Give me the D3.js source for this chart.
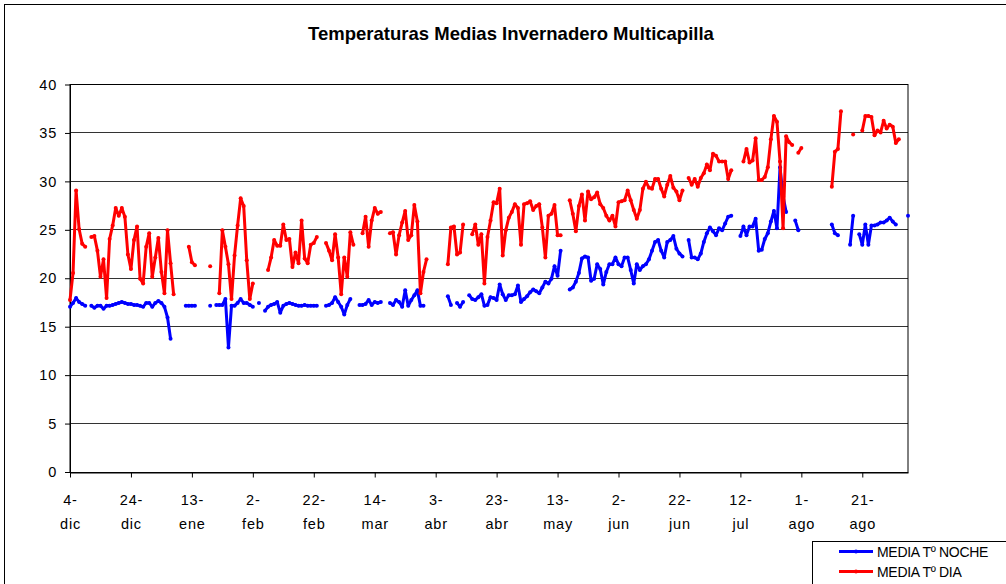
<!DOCTYPE html>
<html>
<head>
<meta charset="utf-8">
<script src="https://cdn.jsdelivr.net/npm/d3@7"></script>
<style>
  body { margin: 0; background: #fff; }
  svg { display: block; font-family: "Liberation Sans", Arial, sans-serif; }
</style>
</head>
<body>
<svg id="chart"></svg>
<script>
// Daily means, day 0 = 4-dic; null = no reading
const noche = [
  17.0, 17.4, 17.9, 17.5, 17.3, 17.1, null, 17.1, 16.9, 17.1,
  17.1, 16.8, 17.1, 17.1, 17.2, 17.3, 17.4, 17.5, 17.4, 17.3,
  17.3, 17.2, 17.2, 17.1, 17.0, 17.4, 17.4, 17.0, 17.4, 17.6,
  17.4, 17.0, 15.9, 13.7, null, null, null, null, 17.1, 17.1,
  17.1, 17.1, null, null, null, null, 17.1, null, 17.2, 17.2,
  17.2, 17.8, 12.8, 17.1, 17.1, 17.4, 17.8, 17.4, 17.4, 17.2,
  17.0, null, 17.4, null, 16.6, 17.0, 17.2, 17.3, 17.5, 16.4,
  17.1, 17.3, 17.4, 17.3, 17.2, 17.1, 17.1, 17.2, 17.1, 17.1,
  17.1, 17.1, null, null, 17.1, 17.2, 17.4, 18.0, 17.5, 17.0,
  16.2, 17.2, 17.8, null, null, 17.2, 17.2, 17.3, 17.7, 17.2,
  17.5, 17.4, 17.5, null, null, 17.4, 17.2, 17.7, 17.5, 17.0,
  18.7, 17.1, 17.7, 18.2, 18.7, 17.1, 17.1, null, null, null,
  null, null, null, null, 18.1, 17.2, null, 17.4, 17.0, 17.5,
  null, 18.2, 17.8, 17.7, 18.0, 18.3, 17.1, 17.2, 18.0, 17.9,
  17.7, 19.3, 18.3, 17.7, 18.2, 18.2, 18.3, 19.2, 17.5, 17.8,
  18.1, 18.5, 18.8, 18.6, 18.4, 19.0, 19.6, 19.4, 19.9, 21.2,
  20.2, 22.8, null, null, 18.8, 19.0, 19.6, 20.5, 22.0, 22.2,
  22.1, 19.7, 19.9, 21.4, 20.9, 19.3, 20.6, 21.4, 21.4, 22.1,
  21.4, 21.2, 22.1, 22.1, 20.8, 19.4, 21.4, 20.8, 21.2, 21.4,
  21.9, 22.8, 23.7, 23.9, 22.8, 22.1, 23.7, 23.9, 24.3, 23.0,
  22.5, 22.2, null, 23.9, 22.1, 22.1, 21.9, 22.5, 23.7, 24.6,
  25.2, 24.8, 24.4, 25.1, 24.9, 25.6, 26.3, 26.4, null, null,
  24.3, 25.3, 24.4, 25.3, 25.3, 26.1, 22.8, 22.9, 24.0, 24.6,
  25.8, 26.9, 25.1, 31.4, 28.4, 26.8, null, null, 25.9, 24.9,
  null, null, null, null, null, null, null, null, null, null,
  25.5, 24.6, 24.4, null, null, null, 23.4, 26.4, null, 24.5,
  23.4, 25.5, 23.4, 25.4, 25.4, 25.5, 25.7, 25.7, 25.9, 26.2,
  25.8, 25.5, null, null, null, 26.4
];

const dia = [
  17.7, 20.5, 29.0, 25.0, 23.5, 23.2, null, 24.2, 24.3, 22.8,
  20.1, 21.9, 17.9, 24.0, 25.4, 27.2, 26.4, 27.2, 26.3, 22.4,
  20.9, 23.9, 25.3, 19.9, 19.4, 23.2, 24.6, 20.1, 22.1, 24.1,
  20.6, 18.4, 24.9, 21.5, 18.3, null, null, null, null, 23.2,
  21.6, 21.3, null, null, null, null, 21.2, null, null, 18.4,
  24.9, 23.2, 21.4, 17.8, 22.3, 25.4, 28.2, 27.4, 21.8, 17.8,
  19.4, null, null, null, null, 20.8, 22.1, 23.9, 23.3, 23.3,
  25.5, 23.9, 24.0, 21.1, 22.6, 21.5, 25.9, 22.0, 21.5, 23.4,
  23.6, 24.2, null, null, 23.6, 22.8, 21.8, 24.5, 22.1, 18.3,
  22.1, 20.1, 24.7, 23.4, null, null, 24.6, 26.3, 23.2, 25.9,
  27.2, 26.6, 26.8, null, null, 24.6, 24.7, 22.4, 24.4, 25.7,
  26.9, 23.9, 24.4, 27.5, 25.8, 18.4, 20.6, 21.9, null, null,
  null, null, null, null, 21.4, 25.2, 25.3, 22.4, 22.6, 25.5,
  null, null, 24.5, 25.5, 23.4, 24.5, 19.4, 24.2, 25.9, 27.8,
  27.7, 29.2, 22.3, 24.9, 26.2, 26.8, 27.6, 27.2, 23.4, 27.6,
  27.7, 27.9, 27.0, 27.4, 27.6, 25.2, 22.1, 26.4, 26.6, 27.5,
  24.4, 24.4, null, null, 28.0, 26.6, 24.8, 27.4, 28.6, 25.9,
  28.9, 28.1, 28.3, 28.8, 27.6, 27.2, 26.4, 25.9, 26.4, 25.3,
  27.8, 27.9, 28.0, 29.0, 28.0, 27.0, 26.1, 27.0, 29.2, 29.9,
  29.3, 29.2, 30.2, 30.2, 29.2, 28.4, 29.6, 30.5, 29.3, 28.9,
  28.0, 29.0, null, 30.3, 29.6, 30.2, 29.4, 30.3, 30.8, 31.7,
  31.1, 32.8, 32.6, 32.0, 32.0, 32.0, 30.2, 31.1, null, null,
  null, 32.0, 33.3, 31.9, 32.1, 34.4, 30.1, 30.1, 30.4, 31.4,
  34.3, 36.7, 36.1, 32.0, 25.1, 34.6, 34.0, 33.7, null, 32.9,
  33.4, null, null, null, null, null, null, null, null, null,
  29.4, 33.0, 33.3, 37.2, null, null, null, 34.8, null, null,
  35.2, 36.7, 36.7, 36.6, 34.7, 35.2, 35.0, 36.2, 35.4, 35.8,
  35.6, 33.9, 34.3, null, null, null
];

const tickDays = [0, 20, 40, 60, 80, 100, 120, 140, 160, 180, 200, 220, 240, 260];
const tickLabels = ["4-dic", "24-dic", "13-ene", "2-feb", "22-feb", "14-mar", "3-abr",
                    "23-abr", "13-may", "2-jun", "22-jun", "12-jul", "1-ago", "21-ago"];
const yTicks = [0, 5, 10, 15, 20, 25, 30, 35, 40];

const series = [
  { name: "MEDIA Tº NOCHE", values: noche, color: "#0000ff" },
  { name: "MEDIA Tº DIA", values: dia, color: "#ff0000" }
];

const W = 1006, H = 584;
const plot = { left: 70, right: 908, top: 84, bottom: 471.5 };

const svg = d3.select("#chart").attr("width", W).attr("height", H);

// chart area border (cropped on right/bottom)
svg.append("rect")
  .attr("x", 4.5).attr("y", 4.5)
  .attr("width", 1200).attr("height", 800)
  .attr("fill", "#fff").attr("stroke", "#000").attr("stroke-width", 1);

// title
svg.append("text")
  .attr("x", 511).attr("y", 40)
  .attr("text-anchor", "middle")
  .attr("font-size", "18.5px")
  .attr("font-weight", "bold")
  .text("Temperaturas Medias Invernadero Multicapilla");

const x = d3.scaleLinear().domain([0, 275]).range([plot.left, plot.right]);
const y = d3.scaleLinear().domain([0, 40]).range([plot.bottom, plot.top]);

// gridlines
svg.append("g")
  .selectAll("line")
  .data(yTicks.filter(d => d > 0))
  .join("line")
  .attr("x1", plot.left).attr("x2", plot.right)
  .attr("y1", d => Math.round(y(d)) + 0.5).attr("y2", d => Math.round(y(d)) + 0.5)
  .attr("stroke", "#333").attr("stroke-width", 1);

// plot border
svg.append("rect")
  .attr("x", plot.left).attr("y", Math.round(y(40)) + 0.5)
  .attr("width", plot.right - plot.left)
  .attr("height", Math.round(y(0)) - Math.round(y(40)))
  .attr("fill", "none").attr("stroke", "#000");

// y axis
const yAxis = svg.append("g")
  .attr("transform", `translate(${plot.left},0.5)`)
  .call(d3.axisLeft(y).tickValues(yTicks).tickSize(5).tickPadding(8).tickSizeOuter(0));
yAxis.selectAll("text").attr("font-size", "14.5px").attr("font-family", "Liberation Sans, Arial, sans-serif")
  .attr("letter-spacing", "0.8px").attr("fill", "#000");
yAxis.selectAll("line, path").attr("stroke", "#000");

// x axis
const xAxis = svg.append("g")
  .attr("transform", `translate(0,${Math.round(y(0)) + 0.5})`)
  .call(d3.axisBottom(x).tickValues(tickDays).tickSize(5).tickSizeOuter(0)
    .tickFormat((d, i) => tickLabels[i]));
xAxis.selectAll("line, path").attr("stroke", "#000");
xAxis.selectAll(".tick text").each(function(d, i) {
  const parts = tickLabels[i].split("-");
  const t = d3.select(this).text(null).attr("y", null).attr("dy", null)
    .attr("font-size", "14.5px").attr("font-family", "Liberation Sans, Arial, sans-serif")
    .attr("letter-spacing", "0.8px").attr("fill", "#000");
  t.append("tspan").attr("x", 0).attr("y", 32).text(parts[0] + "-");
  t.append("tspan").attr("x", 0).attr("y", 56).text(parts[1]);
});

// lines
const line = d3.line()
  .defined(d => d != null)
  .x((d, i) => x(i))
  .y(d => y(d));

series.forEach(s => {
  svg.append("path")
    .datum(s.values)
    .attr("fill", "none")
    .attr("stroke", s.color)
    .attr("stroke-width", 3)
    .attr("stroke-linejoin", "round")
    .attr("d", line);

  svg.append("g")
    .selectAll("circle")
    .data(s.values.map((v, i) => ({ v, i })).filter(d => d.v != null))
    .join("circle")
    .attr("cx", d => x(d.i))
    .attr("cy", d => y(d.v))
    .attr("r", 2)
    .attr("fill", s.color);
});

// legend
const lg = svg.append("g");
lg.append("rect")
  .attr("x", 812.5).attr("y", 541.5)
  .attr("width", 300).attr("height", 100)
  .attr("fill", "#fff").attr("stroke", "#000");

series.forEach((s, i) => {
  const ly = 551.5 + i * 20;
  lg.append("line")
    .attr("x1", 839).attr("x2", 873)
    .attr("y1", ly).attr("y2", ly)
    .attr("stroke", s.color).attr("stroke-width", 3);
  lg.append("circle")
    .attr("cx", 856).attr("cy", ly).attr("r", 2).attr("fill", s.color);
  lg.append("text")
    .attr("x", 877).attr("y", ly + 5)
    .attr("font-size", "14px")
    .attr("letter-spacing", "-0.3px")
    .text(s.name);
});
</script>
</body>
</html>
